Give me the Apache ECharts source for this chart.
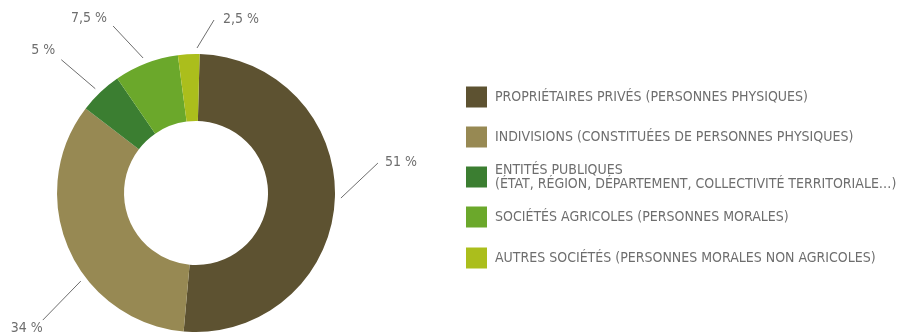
<!DOCTYPE html>
<html>
<head>
<meta charset="utf-8">
<script src="https://cdn.jsdelivr.net/npm/echarts@6/dist/echarts.min.js"></script>
<style>
  html, body { margin: 0; padding: 0; background: #fff; }
  #chart { width: 906px; height: 334px; }
</style>
</head>
<body>
<div id="chart"></div>
<script>
// Land ownership categories and their shares (%)
const categories = [
  'PROPRIÉTAIRES PRIVÉS (PERSONNES PHYSIQUES)',
  'INDIVISIONS (CONSTITUÉES DE PERSONNES PHYSIQUES)',
  'ENTITÉS PUBLIQUES\n(ÉTAT, RÉGION, DÉPARTEMENT, COLLECTIVITÉ TERRITORIALE…)',
  'SOCIÉTÉS AGRICOLES (PERSONNES MORALES)',
  'AUTRES SOCIÉTÉS (PERSONNES MORALES NON AGRICOLES)'
];
const shares = [51, 34, 5, 7.5, 2.5];
const colors = ['#5d5231', '#978953', '#3b7e31', '#6ba82b', '#abbe1c'];

// Donut geometry
const CX = 196, CY = 193, R_IN = 72, R_OUT = 139;

// Leader line for each slice: anchor angle (deg, counter-clockwise from 3 o'clock),
// line vector, label offset from the line end and text alignment
const guides = [
  { a: -2,     v: [37, -35], o: [7, -1],  align: 'left' },
  { a: -142.6, v: [-38, 39], o: [0, 8],   align: 'right' },
  { a: 134,    v: [-34, -29], o: [-6, -9], align: 'right' },
  { a: 111.4,  v: [-30, -32], o: [-6, -8], align: 'right' },
  { a: 89.6,   v: [17, -28], o: [9, -1],  align: 'left' }
];

const FONT = '"Liberation Sans Narrow", "DejaVu Sans Condensed", sans-serif';
const TEXT_COLOR = '#6e6e6e';

// One legend block per category, stacked at a fixed pitch
const legendCenters = [97, 137, 177, 217, 258];
const LINE_H = 14;
const legends = categories.map((name, i) => {
  const lines = name.split('\n').length;
  const h = Math.max(21, lines * LINE_H);
  return {
    orient: 'vertical',
    left: 466,
    top: legendCenters[i] - h / 2,
    padding: 0,
    itemWidth: 21,
    itemHeight: 21,
    icon: 'rect',
    selectedMode: false,
    data: [name],
    textStyle: {
      color: TEXT_COLOR,
      fontSize: 14,
      fontFamily: FONT,
      lineHeight: LINE_H,
      padding: [0, 0, 0, 3]
    }
  };
});

const chart = echarts.init(document.getElementById('chart'), null, { renderer: 'canvas' });

chart.setOption({
  backgroundColor: '#fff',
  animation: false,
  color: colors,
  legend: legends,
  series: [{
    type: 'pie',
    center: [CX, CY],
    radius: [R_IN, R_OUT],
    startAngle: 88.5,
    clockwise: true,
    avoidLabelOverlap: false,
    emphasis: { disabled: true },
    itemStyle: { borderWidth: 0 },
    label: {
      show: true,
      position: 'outside',
      color: TEXT_COLOR,
      fontSize: 14,
      fontFamily: FONT,
      formatter: p => String(p.value).replace('.', ',') + ' %'
    },
    labelLine: {
      show: true,
      length: 10,
      length2: 0,
      lineStyle: { color: '#6e6e6e', width: 1 }
    },
    labelLayout: params => {
      const g = guides[params.dataIndex];
      const rad = g.a * Math.PI / 180;
      const r = R_OUT + 6;
      const sx = CX + r * Math.cos(rad);
      const sy = CY - r * Math.sin(rad);
      const ex = sx + g.v[0];
      const ey = sy + g.v[1];
      return {
        x: ex + g.o[0],
        y: ey + g.o[1],
        align: g.align,
        verticalAlign: 'middle',
        labelLinePoints: [[sx, sy], [ex, ey], [ex, ey]]
      };
    },
    data: categories.map((name, i) => ({ name: name, value: shares[i] }))
  }]
});
</script>
</body>
</html>
